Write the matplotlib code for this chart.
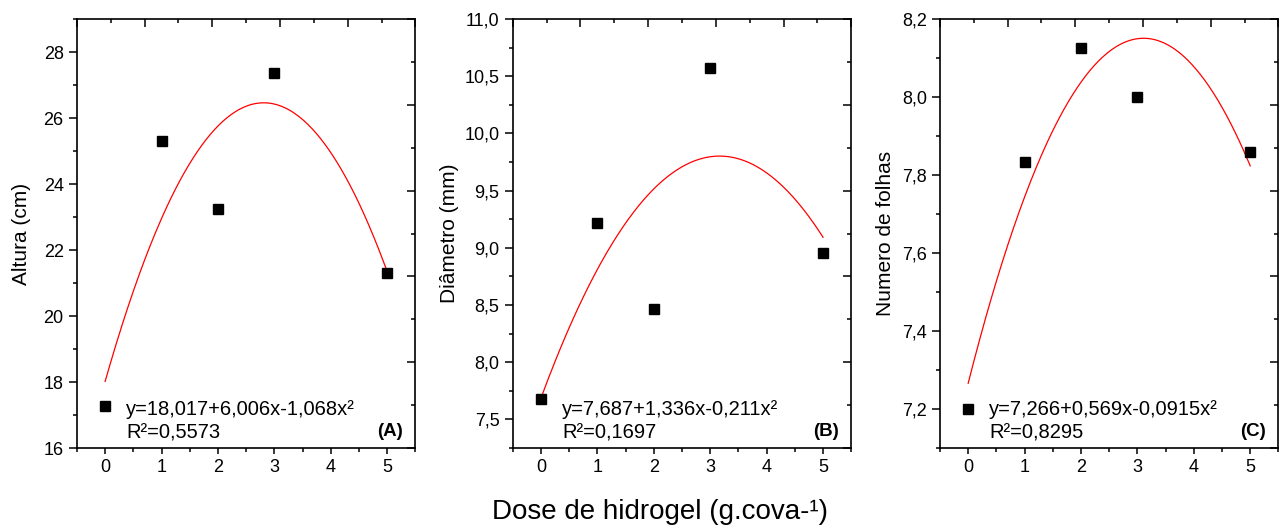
import numpy as np
import matplotlib.pyplot as plt
from matplotlib.ticker import MultipleLocator, FuncFormatter

plt.rcParams['font.family'] = ['Liberation Sans', 'DejaVu Sans']

dose = [0, 1, 2, 3, 5]

altura = [17.26, 25.31, 23.25, 27.36, 21.31]
diametro = [7.68, 9.22, 8.465, 10.574, 8.952]
folhas = [7.20, 7.834, 8.126, 8.00, 7.858]

# coeficientes da regressao quadratica (b0, b1, b2)
coef_altura = [18.017, 6.006, -1.068]
coef_diametro = [7.687, 1.336, -0.211]
coef_folhas = [7.266, 0.569, -0.0915]

eq_altura = ['y=18,017+6,006x-1,068x²', 'R²=0,5573']
eq_diametro = ['y=7,687+1,336x-0,211x²', 'R²=0,1697']
eq_folhas = ['y=7,266+0,569x-0,0915x²', 'R²=0,8295']

paineis = [
    (altura, coef_altura, eq_altura, 'Altura (cm)', '(A)', (16, 29), 2, 1, 0, 9),
    (diametro, coef_diametro, eq_diametro, 'Diâmetro (mm)', '(B)', (7.25, 11.0), 0.5, 0.25, 1, 4),
    (folhas, coef_folhas, eq_folhas, 'Numero de folhas', '(C)', (7.1, 8.2), 0.2, 0.1, 1, 5),
]

lefts = [0.060, 0.400, 0.7332]

fig = plt.figure(figsize=(12.82, 5.28), dpi=100)


def virgula(dec):
    return FuncFormatter(lambda v, p: f'{v:.{dec}f}'.replace('.', ','))


for (y, coef, eq, ylab, letra, ylim, maj, mnr, dec, pad), l in zip(paineis, lefts):
    rect = [l, 0.1515, 0.2640, 0.8125]

    # eixos de cima e da direita com escala propria (0 a 1)
    ov = fig.add_axes(rect)
    ov.set_xlim(0, 1)
    ov.set_ylim(0, 1)
    for a in (ov.xaxis, ov.yaxis):
        a.set_major_locator(MultipleLocator(0.2))
        a.set_minor_locator(MultipleLocator(0.1))
    ov.tick_params(which='both', direction='in', width=1.1,
                   top=True, right=True, bottom=False, left=False,
                   labeltop=False, labelright=False, labelbottom=False, labelleft=False)
    ov.tick_params(which='major', length=6)
    ov.tick_params(which='minor', length=3)
    for s in ov.spines.values():
        s.set_visible(False)
    ov.patch.set_visible(False)

    ax = fig.add_axes(rect, label=letra)
    ax.patch.set_visible(False)
    xs = np.linspace(0, 5, 200)
    ys = coef[0] + coef[1] * xs + coef[2] * xs ** 2
    ax.plot(xs, ys, color='red', lw=0.9)
    ax.plot(dose, y, 's', color='black', ms=6.5)

    ax.set_xlim(-0.5, 5.5)
    ax.set_ylim(*ylim)
    ax.xaxis.set_major_locator(MultipleLocator(1))
    ax.xaxis.set_minor_locator(MultipleLocator(0.5))
    ax.yaxis.set_major_locator(MultipleLocator(maj))
    ax.yaxis.set_minor_locator(MultipleLocator(mnr))
    ax.yaxis.set_major_formatter(virgula(dec))
    ax.tick_params(which='major', direction='out', length=6, width=1.1, labelsize=13)
    ax.tick_params(which='minor', direction='out', length=3, width=1.1)
    ax.tick_params(axis='x', which='major', length=4, pad=4)
    ax.set_ylabel(ylab, fontsize=15, labelpad=pad)
    for s in ax.spines.values():
        s.set_linewidth(1.2)

    ax.text(0.146, 0.089, eq[0], transform=ax.transAxes, fontsize=14.5,
            va='center', ha='left')
    ax.text(0.146, 0.036, eq[1], transform=ax.transAxes, fontsize=14.5,
            va='center', ha='left')
    ax.text(0.926, 0.039, letra, transform=ax.transAxes, fontsize=13.5,
            fontweight='bold', ha='center', va='center')

fig.text(0.515, 0.03, 'Dose de hidrogel (g.cova-¹)', ha='center', va='center', fontsize=20)

fig.savefig('out.png', dpi=100)
